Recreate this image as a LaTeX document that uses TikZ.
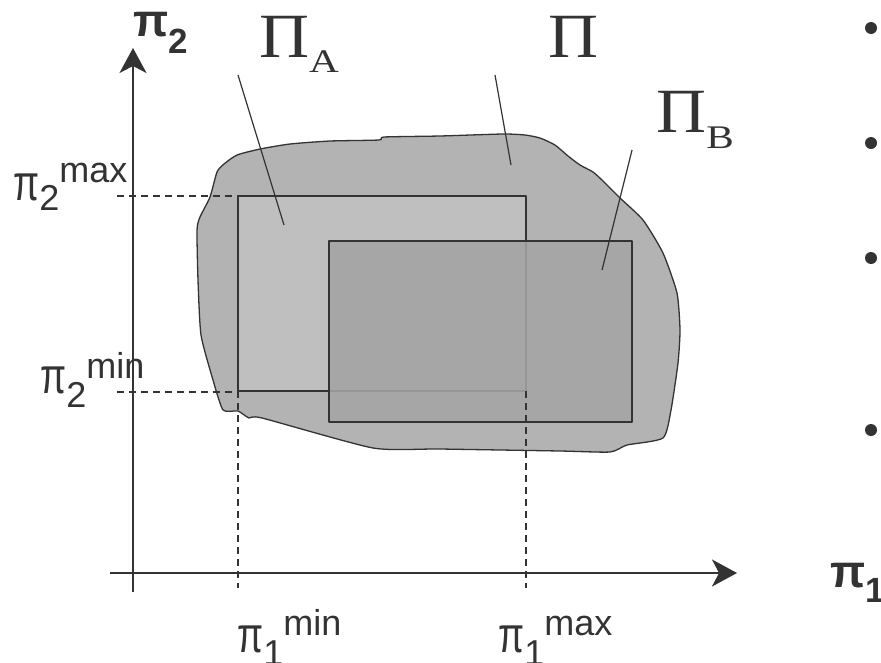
\documentclass[tikz,border=0pt]{standalone}
\usepackage{fontspec}
\usepackage{graphicx}
\setmainfont{Liberation Serif}
\newfontfamily\arialfam{Liberation Sans}
\usetikzlibrary{arrows.meta}
\definecolor{ink}{HTML}{333333}
\definecolor{blobfill}{HTML}{B3B3B3}
\definecolor{afill}{HTML}{BFBFBF}
\definecolor{bfill}{HTML}{A6A6A6}
\definecolor{faint}{HTML}{969696}
\newcommand{\tallpi}{\scalebox{1.05}[1.4]{π}}
\newcommand{\widePi}{\scalebox{1.1}[1]{Π}}
\newcommand{\subl}[1]{\raisebox{-15pt}{\fontsize{33}{36}\selectfont\scalebox{1.25}[1]{#1}}}
\begin{document}
\begin{tikzpicture}[x=1pt,y=-1pt,line join=round,
  axis/.style={draw=ink,line width=2pt},
  outline/.style={draw=ink,line width=1.3pt},
  guide/.style={draw=ink,line width=1.2pt,dash pattern=on 7pt off 5pt},
  pointer/.style={draw=ink,line width=1.2pt},
  lbl/.style={inner sep=0pt,anchor=base west,text=ink,font=\arialfam\fontsize{36}{40}\selectfont},
  boldlbl/.style={inner sep=0pt,anchor=base west,text=ink,font=\arialfam\bfseries\fontsize{36}{40}\selectfont},
  biglbl/.style={inner sep=0pt,anchor=base west,text=ink,font=\fontsize{63}{70}\selectfont},
  dot/.style={circle,fill=ink,inner sep=0pt,minimum size=12pt}]
\useasboundingbox (0,0) rectangle (881,662);

% region Pi
\path[fill=blobfill,outline] plot[smooth cycle,tension=0.35] coordinates {
 (197,230) (200,217) (210,197) (217,172) (224,164) (237,155) (260,149) (290,144)
 (330,141) (379,140) (384,137) (440,136) (503,134) (525,135) (540,138) (555,145)
 (568,156) (580,165) (593,172) (603,181) (620,198) (643,220) (663,253) (677,293)
 (680,330) (678,363) (671,410) (663,438) (627,445) (610,452) (560,451) (440,449)
 (373,448) (262,418) (249,418) (238,411) (223,410) (213,380) (201,335) (198,280)};

% Pi_A and Pi_B
\path[fill=afill,outline] (238,196) rectangle (526,391);
\path[fill=bfill,outline] (329,241) rectangle (632,422);
\draw[faint,line width=1.2pt] (526,242) -- (526,391) -- (330,391);

% guides
\coordinate (g2max) at (117,196);
\coordinate (a2max) at (238,196);
\coordinate (g2min) at (117,392);
\coordinate (a2min) at (238,392);
\coordinate (t1min) at (238,391);
\coordinate (b1min) at (238,588);
\coordinate (t1max) at (526,391);
\coordinate (b1max) at (526,588);
\draw[guide] (g2max) -- (a2max);
\draw[guide] (g2min) -- (a2min);
\draw[guide] (t1min) -- (b1min);
\draw[guide] (t1max) -- (b1max);

% axes
\coordinate (ybot) at (133,592);
\coordinate (ytop) at (133,48);
\coordinate (xleft) at (110,573);
\coordinate (xright) at (737,573);
\draw[axis,-{Stealth[length=25pt,width=27pt,inset=7pt]}] (ybot) -- (ytop);
\draw[axis,-{Stealth[length=25pt,width=27pt,inset=7pt]}] (xleft) -- (xright);

% labels
\node[boldlbl] (p2) at (133,36) {\fontsize{46}{50}\selectfont π\fontsize{35}{40}\selectfont\raisebox{-17pt}{2}};
\node[boldlbl] (p1) at (830,587) {\fontsize{46}{50}\selectfont π\fontsize{35}{40}\selectfont\raisebox{-15pt}{1}};
\node[biglbl] (PA) at (259,57) {\widePi\subl{A}};
\node[biglbl] (P) at (548,57) {\widePi};
\node[biglbl] (PB) at (656,132) {\widePi\raisebox{-1pt}{\subl{B}}};

\node[lbl] (l2max) at (13,200) {\tallpi\raisebox{-10pt}{2}\raisebox{18pt}{max}};
\node[lbl] (l2min) at (40,393) {\tallpi\raisebox{-14pt}{2}\raisebox{15pt}{min}};
\node[lbl] (l1min) at (237,652) {\tallpi\raisebox{-13pt}{1}\raisebox{17pt}{min}};
\node[lbl] (l1max) at (498,652) {\tallpi\raisebox{-13pt}{1}\raisebox{17pt}{max}};

% pointers
\coordinate (pa0) at (238,75);
\coordinate (pa1) at (284,225);
\coordinate (pp0) at (495,75);
\coordinate (pp1) at (511,165);
\coordinate (pb0) at (632,150);
\coordinate (pb1) at (602,270);
\draw[pointer] (pa0) -- (pa1);
\draw[pointer] (pp0) -- (pp1);
\draw[pointer] (pb0) -- (pb1);

% bullets
\node[dot] (d1) at (871,28) {};
\node[dot] (d2) at (871,143) {};
\node[dot] (d3) at (871,258) {};
\node[dot] (d4) at (871,430) {};
\end{tikzpicture}
\end{document}
